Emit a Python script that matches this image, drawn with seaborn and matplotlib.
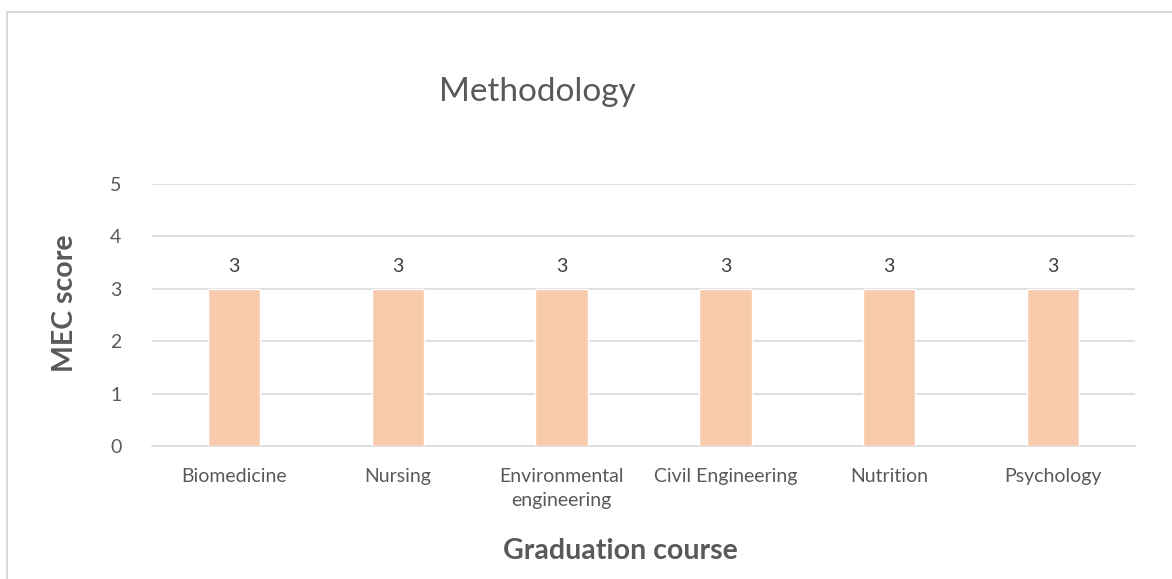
import matplotlib
matplotlib.use("Agg")
import matplotlib.pyplot as plt
import seaborn as sns
import pandas as pd
from matplotlib.lines import Line2D

# chart data
courses = ["Biomedicine", "Nursing", "Environmental\nengineering",
           "Civil Engineering", "Nutrition", "Psychology"]
scores = [3, 3, 3, 3, 3, 3]
y_ticks = [0, 1, 2, 3, 4, 5]

df = pd.DataFrame({"course": courses, "score": scores})

sns.set_style("white")
plt.rcParams["font.family"] = ["Lato", "DejaVu Sans"]

grey = "#595959"
fig = plt.figure(figsize=(11.72, 5.79), dpi=100)
ax = fig.add_axes([152 / 1172, 1 - 446 / 579, (1135 - 152) / 1172, (446 - 184) / 579])

sns.barplot(data=df, x="course", y="score", color="#F8CBAD", width=0.32,
            saturation=1, ax=ax, zorder=3)

ax.set_ylim(0, 5)
ax.set_yticks(y_ticks)
ax.yaxis.grid(True, color="#D9D9D9", linewidth=1.2, zorder=0)
for s in ["top", "right", "left"]:
    ax.spines[s].set_visible(False)
ax.spines["bottom"].set_color("#D9D9D9")
ax.spines["bottom"].set_linewidth(1.2)
ax.tick_params(axis="both", length=0, colors=grey)
ax.tick_params(axis="y", labelsize=14, pad=22)
ax.tick_params(axis="x", labelsize=14, pad=16)
for lbl in ax.get_xticklabels():
    lbl.set_linespacing(1.45)

for c in ax.containers:
    ax.bar_label(c, labels=[str(v) for v in scores], padding=10,
                 fontsize=14, color="#404040")

# title sits over the whole chart box, not the plot area
fig.text(537 / 1172, 1 - 92 / 579, "Methodology", fontsize=24, color=grey,
         ha="center", va="center")
ax.set_xlabel("Graduation course", fontsize=20.5, fontweight="bold", color=grey)
ax.xaxis.set_label_coords((620 - 152) / 983, (446 - 538) / 262)
ax.set_ylabel("MEC score", fontsize=20.5, fontweight="bold", color=grey)
ax.yaxis.set_label_coords((78 - 152) / 983, (446 - 303) / 262)

# chart frame as in the screenshot
fig.add_artist(Line2D([7 / 1172, 7 / 1172], [0, 1 - 12 / 579], color="#D9D9D9", lw=1.5))
fig.add_artist(Line2D([7 / 1172, 1], [1 - 12 / 579, 1 - 12 / 579], color="#D9D9D9", lw=1.5))

fig.savefig("out.png", dpi=100)
